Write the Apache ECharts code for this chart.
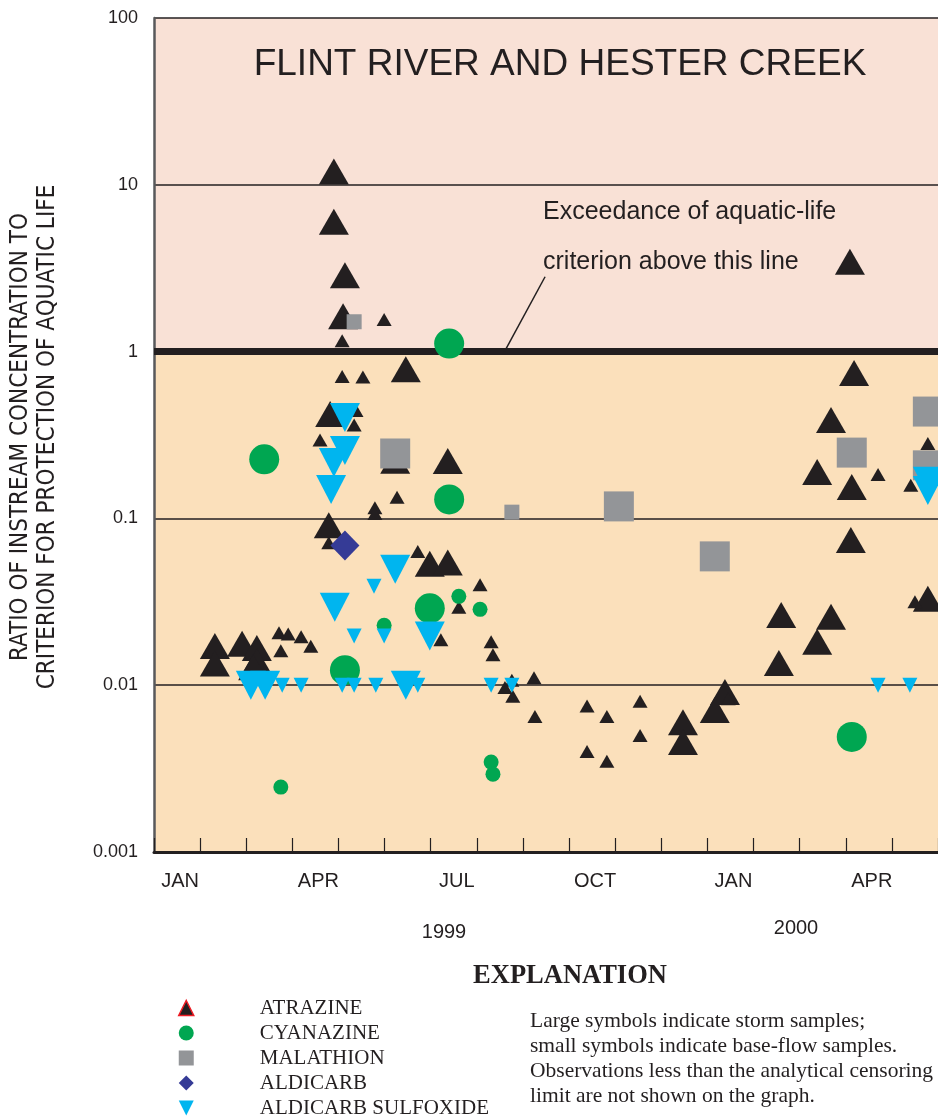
<!DOCTYPE html>
<html>
<head>
<meta charset="utf-8">
<title>Flint River and Hester Creek</title>
<script src="https://cdn.jsdelivr.net/npm/echarts@6/dist/echarts.min.js"></script>
<style>
  html, body { margin: 0; padding: 0; background: #ffffff; }
  #chart { width: 938px; height: 1119px; }
</style>
</head>
<body>
<div id="chart"></div>
<script>
// Month bands along the time axis: Jan 1999 through May 2000 (17 months).
const monthLabels = ['JAN', '', '', 'APR', '', '', 'JUL', '', '', 'OCT', '', '', 'JAN', '', '', 'APR', ''];
const yearLabels = ['1999', '2000'];
const yTickValues = [100, 10, 1, 0.1, 0.01, 0.001];

// Samples as [months since 1 Jan 1999, ratio to aquatic-life criterion].
const atrazineStorm = [
  [3.90, 12.0], [3.90, 6.0], [4.14, 2.87], [4.10, 1.63], [5.46, 0.785], [6.37, 0.221],
  [3.82, 0.422], [3.79, 0.091], [5.23, 0.222], [5.98, 0.0535], [6.37, 0.0544],
  [1.32, 0.0172], [1.32, 0.0135], [1.91, 0.0177], [2.23, 0.0167], [2.23, 0.0139], [2.15, 0.0128],
  [11.47, 0.0060], [11.47, 0.00456], [12.16, 0.0071], [12.38, 0.0091], [13.55, 0.0136],
  [13.60, 0.0264], [14.38, 0.0182], [14.68, 0.0257], [15.11, 0.0743], [14.38, 0.19],
  [15.13, 0.154], [14.68, 0.389], [15.18, 0.743], [15.09, 3.46], [16.78, 0.033]
];
const atrazineBase = [
  [16.50, 0.0316], [16.78, 0.281], [16.41, 0.158], [15.70, 0.183], [4.99, 1.555], [4.08, 1.16],
  [4.08, 0.708], [4.53, 0.704], [4.38, 0.443], [4.34, 0.363], [3.60, 0.295], [5.27, 0.134],
  [4.79, 0.116], [4.79, 0.107], [3.79, 0.0714], [5.72, 0.0634], [7.07, 0.040], [6.61, 0.0293],
  [6.22, 0.0187], [7.31, 0.0182], [7.35, 0.0152], [8.24, 0.0111], [7.61, 0.0097], [7.78, 0.0086],
  [7.76, 0.0107], [8.26, 0.0065], [9.39, 0.0075], [9.82, 0.0065], [9.39, 0.0040], [9.82, 0.0035],
  [10.54, 0.0080], [10.54, 0.0050], [2.71, 0.0206], [2.91, 0.0203], [3.19, 0.0195], [3.40, 0.0171],
  [2.75, 0.0161], [12.45, 0.0083]
];
const cyanazineStorm = [[2.39, 0.226], [6.40, 1.117], [6.40, 0.13], [5.98, 0.0289], [4.14, 0.0123], [15.13, 0.0049]];
const cyanazineBase = [[2.75, 0.00245], [4.99, 0.0229], [6.61, 0.0341], [7.07, 0.0285], [7.31, 0.00346], [7.35, 0.00293]];
const malathionStorm = [[5.23, 0.245], [10.08, 0.118], [12.16, 0.0592], [15.13, 0.248], [16.78, 0.437], [16.78, 0.208]];
const malathionBase = [[4.34, 1.51], [7.76, 0.109]];
const aldicarbStorm = [[4.14, 0.0689]];
const aldicarbBase = [];
const sulfoxideStorm = [
  [4.14, 0.402], [4.14, 0.255], [3.90, 0.216], [3.84, 0.149], [3.92, 0.0293], [5.23, 0.0495],
  [5.98, 0.0197], [2.10, 0.01], [2.41, 0.01], [5.46, 0.01], [16.78, 0.167], [16.78, 0.147]
];
const sulfoxideBase = [
  [2.78, 0.01], [3.19, 0.01], [4.08, 0.01], [4.34, 0.01], [4.81, 0.01], [5.72, 0.01],
  [7.31, 0.01], [7.76, 0.01], [15.70, 0.01], [16.39, 0.01], [4.34, 0.0197], [4.77, 0.0392], [4.99, 0.0197]
];

const SANS = "'Liberation Sans', Arial, Helvetica, sans-serif";
const SERIF = "'Liberation Serif', 'Times New Roman', serif";
const INK = '#231f20';
const ABOVE = '#f9e1d6';   // ratio above the criterion
const BELOW = '#fbe0bb';   // ratio below the criterion

// storm samples get flag 1 (large symbol), base-flow samples flag 0 (small symbol)
function merge(storm, base) {
  return storm.map(d => [d[0], d[1], 1]).concat(base.map(d => [d[0], d[1], 0]));
}

function chemSeries(name, storm, base, symbol, color, big, small) {
  return {
    name: name,
    type: 'scatter',
    xAxisIndex: 1,
    z: 3,
    symbol: symbol,
    symbolSize: v => (v[2] ? big : small),
    itemStyle: { color: color, opacity: 1 },
    emphasis: { disabled: true },
    data: merge(storm, base)
  };
}

const chart = echarts.init(document.getElementById('chart'), null, { renderer: 'canvas' });

chart.setOption({
  animation: false,
  backgroundColor: '#ffffff',
  grid: { left: 154, right: 0, top: 18, bottom: 267, containLabel: false },
  xAxis: [
    {
      type: 'category',
      data: monthLabels,
      boundaryGap: true,
      z: 2,
      axisLine: { show: true, lineStyle: { color: INK, width: 3 } },
      axisTick: { show: true, inside: true, length: 14, lineStyle: { color: INK, width: 1.2 } },
      axisLabel: { interval: 0, margin: 19, color: INK, fontFamily: SANS, fontSize: 20, padding: [0, 0, 0, 6] },
      splitLine: { show: false }
    },
    { type: 'value', min: 0, max: 17, show: false }
  ],
  yAxis: {
    type: 'log',
    logBase: 10,
    min: 0.001,
    max: 100,
    splitNumber: 5,
    axisLine: { show: true, lineStyle: { color: '#58595b', width: 2.5 } },
    axisTick: { show: false },
    axisLabel: {
      margin: 16, color: INK, fontFamily: SANS, fontSize: 18,
      formatter: v => {
        const hit = yTickValues.find(t => Math.abs(Math.log10(t) - Math.log10(v)) < 1e-6);
        return hit === undefined ? '' : String(hit);
      }
    },
    // one shade per decade, from 0.001 upward
    splitArea: { show: true, areaStyle: { color: [BELOW, BELOW, BELOW, ABOVE, ABOVE] } },
    splitLine: { show: true, lineStyle: { color: INK, width: 1.5 } }
  },
  legend: {
    orient: 'vertical',
    left: 178,
    top: 997.5,
    height: 140,
    padding: 0,
    itemWidth: 15,
    itemHeight: 15,
    itemGap: 4,
    selectedMode: false,
    textStyle: { fontFamily: SERIF, fontSize: 21, color: INK, padding: [0, 0, 0, 61], lineHeight: 21 },
    data: [
      { name: 'ATRAZINE', itemStyle: { borderColor: '#ed1c24', borderWidth: 1.5 } },
      { name: 'CYANAZINE' },
      { name: 'MALATHION' },
      { name: 'ALDICARB' },
      { name: 'ALDICARB SULFOXIDE' }
    ]
  },
  series: [
    // criterion line at ratio 1 and the leader from its annotation
    {
      name: 'criterion', type: 'scatter', xAxisIndex: 1, data: [], z: 2, silent: true,
      markLine: {
        silent: true,
        z: 2,
        symbol: 'none',
        label: { show: false },
        lineStyle: { color: INK, width: 7, type: 'solid' },
        data: [
          { yAxis: 1 },
          [
            { coord: [8.48, 2.81], lineStyle: { color: INK, width: 1.5, type: 'solid' } },
            { coord: [7.60, 1] }
          ]
        ]
      }
    },
    chemSeries('ATRAZINE', atrazineStorm, atrazineBase, 'triangle', INK, [30, 26], [15, 13]),
    chemSeries('CYANAZINE', cyanazineStorm, cyanazineBase, 'circle', '#00a651', 30, 15),
    chemSeries('MALATHION', malathionStorm, malathionBase, 'rect', '#939598', 30, 15),
    chemSeries('ALDICARB', aldicarbStorm, aldicarbBase, 'diamond', '#353b96', [29, 30], [15, 15]),
    chemSeries('ALDICARB SULFOXIDE', sulfoxideStorm, sulfoxideBase, 'path://M0,0L2,0L1,2Z', '#00b5ef', [30, 29], [15, 15])
  ],
  graphic: [
    {
      type: 'text', x: 560, y: 65, z: 100, silent: true,
      style: { text: 'FLINT RIVER AND HESTER CREEK', font: '37px ' + SANS, fill: INK, align: 'center', verticalAlign: 'middle' }
    },
    {
      type: 'text', x: 543, y: 212, z: 100, silent: true,
      style: { text: 'Exceedance of aquatic-life', font: '25px ' + SANS, fill: INK, align: 'left', verticalAlign: 'middle' }
    },
    {
      type: 'text', x: 543, y: 262, z: 100, silent: true,
      style: { text: 'criterion above this line', font: '25px ' + SANS, fill: INK, align: 'left', verticalAlign: 'middle' }
    },
    {
      type: 'text', x: 34, y: 437, rotation: Math.PI / 2, z: 100, silent: true,
      style: {
        text: 'RATIO OF INSTREAM CONCENTRATION TO\nCRITERION FOR PROTECTION OF AQUATIC LIFE',
        font: "24px 'Liberation Sans Narrow', 'DejaVu Sans Condensed', sans-serif",
        lineHeight: 27, fill: INK, align: 'center', verticalAlign: 'middle'
      }
    },
    {
      type: 'text', x: 444, y: 932, z: 100, silent: true,
      style: { text: yearLabels[0], font: '20px ' + SANS, fill: INK, align: 'center', verticalAlign: 'middle' }
    },
    {
      type: 'text', x: 796, y: 928, z: 100, silent: true,
      style: { text: yearLabels[1], font: '20px ' + SANS, fill: INK, align: 'center', verticalAlign: 'middle' }
    },
    {
      type: 'text', x: 570, y: 976, z: 100, silent: true,
      style: { text: 'EXPLANATION', font: 'bold 26.5px ' + SERIF, fill: INK, align: 'center', verticalAlign: 'middle' }
    },
    {
      type: 'text', x: 530, y: 1008.5, z: 100, silent: true,
      style: {
        text: 'Large symbols indicate storm samples;\nsmall symbols indicate base-flow samples.\nObservations less than the analytical censoring\nlimit are not shown on the graph.',
        font: '21.5px ' + SERIF, lineHeight: 25, fill: INK, align: 'left', verticalAlign: 'top'
      }
    }
  ]
});
</script>
</body>
</html>
